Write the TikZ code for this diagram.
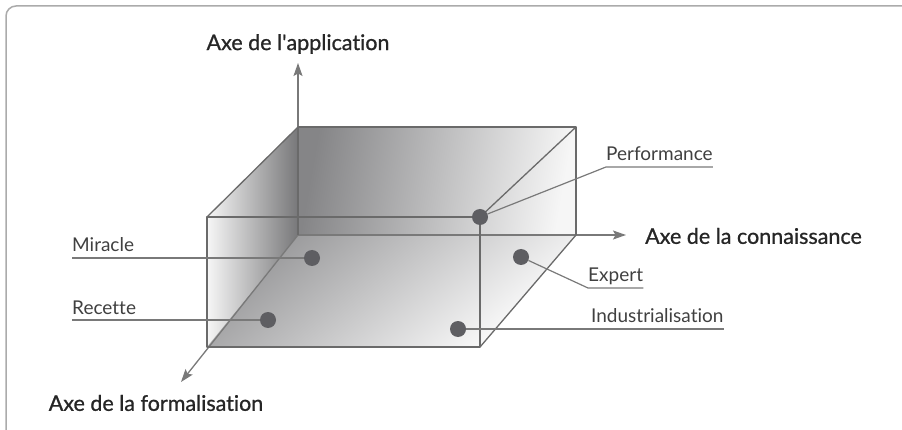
\documentclass[tikz,border=0pt]{standalone}
\usepackage{fontspec}
\setmainfont{Lato}[Ligatures=NoCommon]
\newfontfamily\axfont[FakeBold=0.9, Ligatures=NoCommon]{Lato}
\usetikzlibrary{arrows.meta, positioning, calc}
\definecolor{edgegray}{HTML}{6A6A6A}
\definecolor{dotgray}{HTML}{5E5E62}
\definecolor{framegray}{HTML}{ABABAB}
\definecolor{shdark}{HTML}{858587}
\definecolor{shlight}{HTML}{F6F6F6}
\tikzset{
  edge/.style    = {draw=edgegray, line width=1.3pt, line join=round},
  axis/.style    = {draw=edgegray!90, line width=1.3pt,
                    -{Stealth[length=13pt, width=9pt, inset=2.5pt]}},
  leader/.style  = {draw=edgegray!90, line width=1.2pt},
  dot/.style     = {circle, fill=dotgray, minimum size=16pt, inner sep=0pt},
  axlabel/.style = {font=\axfont\fontsize{21.5}{24}\selectfont, text=black!85, inner sep=0pt},
  lbl/.style     = {font=\fontsize{19}{22}\selectfont, text=black!75, inner sep=0pt}
}
\begin{document}
\begin{tikzpicture}[x=1pt, y=-1pt]
\useasboundingbox (0,0) rectangle (902,430);
\draw[framegray, line width=1.5pt, rounded corners=10pt] (6,432) -- (6,6) -- (904,6);

% corners of the box
\coordinate (o)   at (298,235);
\coordinate (btl) at (298,127);
\coordinate (btr) at (576,127);
\coordinate (bbr) at (576,235);
\coordinate (ftl) at (207,217);
\coordinate (ftr) at (480,217);
\coordinate (fbl) at (207,347);
\coordinate (fbr) at (480,347);

% shaded faces
\shade[left color=shdark, right color=shlight, shading angle=80] (o) -- (btl) -- (btr) -- (bbr) -- cycle;
\shade[left color=shlight, right color=shdark!90!black] (o) -- (btl) -- (ftl) -- (fbl) -- cycle;
\shade[top color=shdark!85!white, bottom color=white, shading angle=40] (o) -- (bbr) -- (fbr) -- (fbl) -- cycle;

% axes
\coordinate (appTip) at (298,63);
\coordinate (conTip) at (626,235);
\coordinate (forTip) at (181,382);
\draw[axis] (o) -- (appTip);
\draw[axis] (o) -- (conTip);
\draw[axis] (o) -- (forTip);
\node[axlabel] (app) at (298,44) {Axe de l\textquotesingle application};
\node[axlabel, anchor=west] (con) at (645,236) {Axe de la connaissance};
\node[axlabel] (for) at (156,403) {Axe de la formalisation};

% edges
\draw[edge] (btl) -- (btr) -- (bbr);
\draw[edge] (btl) -- (o);
\draw[edge] (ftl) -- (ftr) -- (fbr) -- (fbl) -- cycle;
\draw[edge] (btl) -- (ftl);
\draw[edge] (btr) -- (ftr);
\draw[edge] (bbr) -- (fbr);

% points
\node[dot] (dPerf) at (480,217) {};
\node[dot] (dMir)  at (312,258) {};
\node[dot] (dRec)  at (268,320) {};
\node[dot] (dInd)  at (458,329) {};
\node[dot] (dExp)  at (521,257) {};

% labels and leaders
\coordinate (mirL) at (72,258);
\coordinate (recL) at (72,320);
\coordinate (perfL) at (606,167);
\coordinate (expL) at (588,288);
\coordinate (indL) at (591,329);
\node[lbl, anchor=base west] (mir)  at ([yshift=6pt]mirL)  {Miracle};
\node[lbl, anchor=base west] (rec)  at ([yshift=6pt]recL)  {Recette};
\node[lbl, anchor=base west] (perf) at ([yshift=6pt]perfL) {Performance};
\node[lbl, anchor=base west] (exp)  at ([yshift=6pt]expL)  {Expert};
\node[lbl, anchor=base west] (ind)  at ([yshift=6pt]indL)  {Industrialisation};
\draw[leader] (mirL) -- (dMir);
\draw[leader] (recL) -- (dRec);
\draw[leader] (dPerf) -- (perfL) -- (perfL -| perf.east);
\draw[leader] (dExp) -- (expL) -- (expL -| exp.east);
\draw[leader] (dInd) -- (indL -| ind.east);
\end{tikzpicture}
\end{document}
